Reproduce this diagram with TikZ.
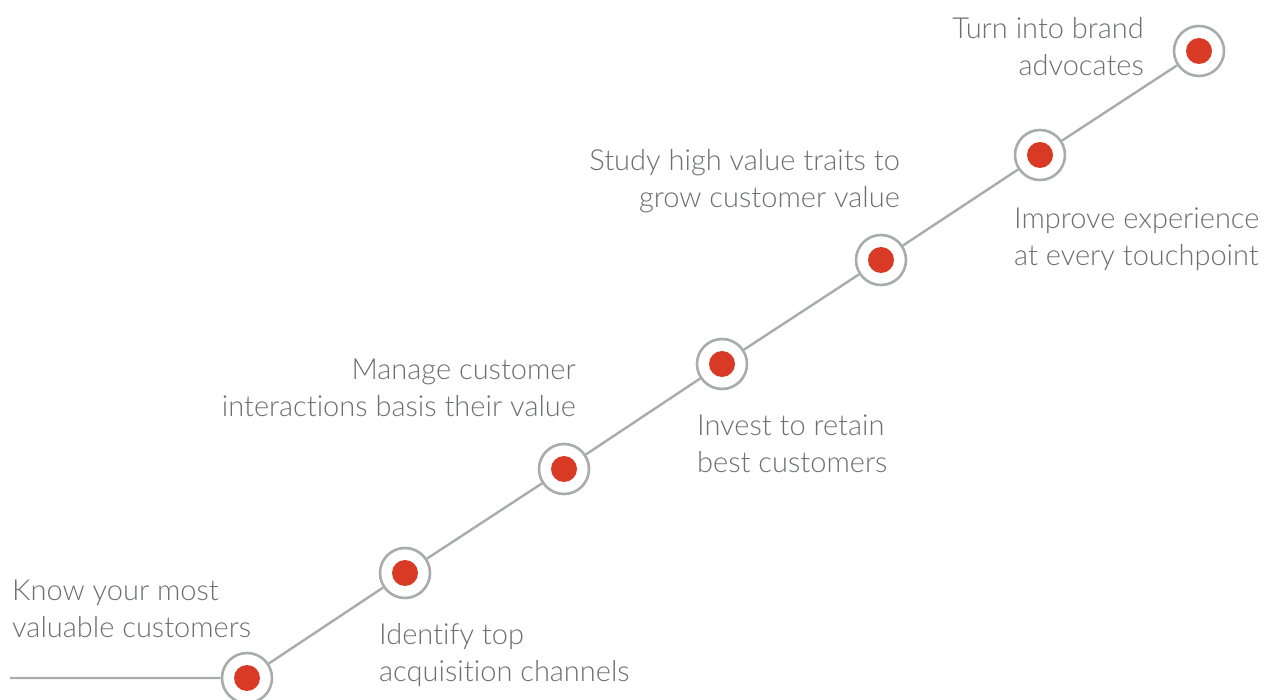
\documentclass[tikz,border=0pt]{standalone}
\usepackage{fontspec}
\setmainfont{Lato Light}[Ligatures={NoCommon,NoRare}]
\definecolor{ringgray}{HTML}{A9ABAD}
\definecolor{dotred}{HTML}{D93A26}
\definecolor{txtgray}{HTML}{6D6E70}
\begin{document}
\begin{tikzpicture}[x=1pt,y=-1pt,
  stage/.style={circle,draw=ringgray,line width=2.6pt,fill=white,minimum size=50pt,inner sep=0pt},
  link/.style={draw=ringgray,line width=2.4pt},
  caption/.style={text=txtgray,font=\fontsize{29}{37}\selectfont,inner sep=0pt,align=#1},
  caption/.default=left]
\useasboundingbox (0,0) rectangle (1270,700);

\coordinate (start) at (10,678);
\node[stage] (s1) at (247,678) {};
\node[stage] (s2) at (405,573) {};
\node[stage] (s3) at (564,469) {};
\node[stage] (s4) at (722,364) {};
\node[stage] (s5) at (881,260) {};
\node[stage] (s6) at (1040,155) {};
\node[stage] (s7) at (1199,51) {};

\path[link] (start) -- (s1) (s1) -- (s2) (s2) -- (s3) (s3) -- (s4)
  (s4) -- (s5) (s5) -- (s6) (s6) -- (s7);

\foreach \s in {s1,s2,s3,s4,s5,s6,s7}
  \fill[dotred] (\s.center) circle (13);

% anchors sit on the baseline of each caption's second line
\node[caption=left,anchor=base west] (t1) at (12,637) {Know your most\\valuable customers};
\node[caption=left,anchor=base west] (t2) at (379,681) {Identify top\\acquisition channels};
\node[caption=right,anchor=base east] (t3) at (576,417) {Manage customer\\interactions basis their value};
\node[caption=left,anchor=base west] (t4) at (697,473) {Invest to retain\\best customers};
\node[caption=right,anchor=base east] (t5) at (900,208) {Study high value traits to\\grow customer value};
\node[caption=left,anchor=base west] (t6) at (1014,266) {Improve experience\\at every touchpoint};
\node[caption=right,anchor=base east] (t7) at (1144,76) {Turn into brand\\advocates};
\end{tikzpicture}
\end{document}
